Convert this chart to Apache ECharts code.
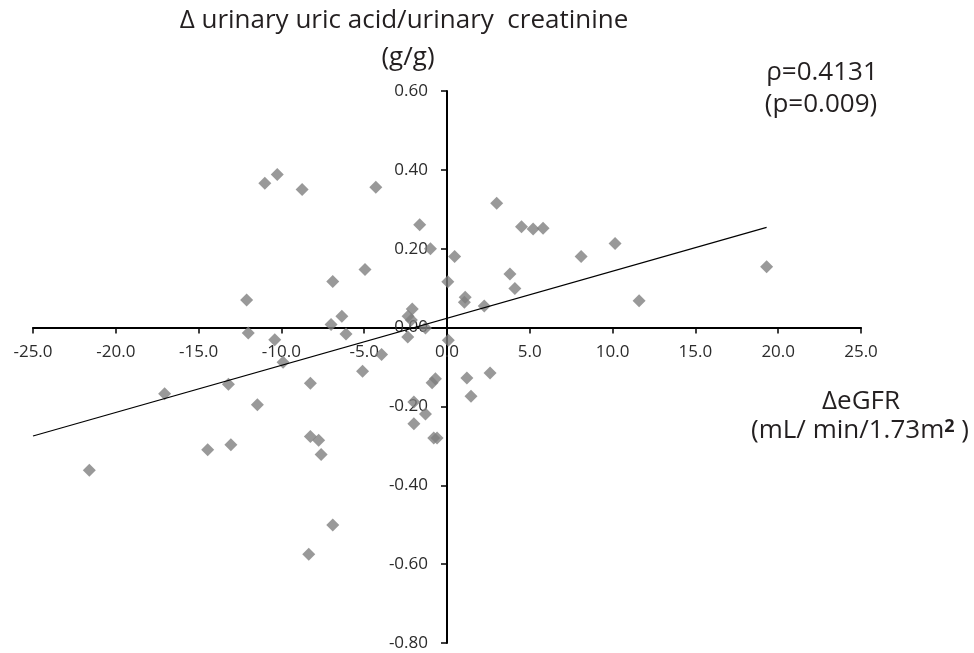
<!DOCTYPE html>
<html>
<head>
<meta charset="utf-8">
<script src="https://cdn.jsdelivr.net/npm/echarts@6/dist/echarts.min.js"></script>
<style>
  html, body { margin: 0; padding: 0; background: #fff; }
  #chart { width: 974px; height: 653px; }
</style>
</head>
<body>
<div id="chart"></div>
<script>
// ΔeGFR vs Δ urinary uric acid/creatinine
const deltaEGFR = [
  -11.0, -10.25, -8.75, -4.3, -1.65, -1.0, 0.46, -6.9, -4.95, 0.05,
  -12.1, -6.35, -7.0, -2.1, -2.35, -2.15, -1.3, -12.0, -6.1, -10.4,
  -2.37, 0.08, 1.05, 1.1, 3.0, 4.5, 5.2, 5.8, 10.15, 8.1,
  3.8, 4.1, 2.25, 11.6, 19.3, -3.95, -9.9, -5.1, -8.25, -13.2,
  -17.05, -11.45, -0.9, -0.7, -2.0, -1.3, -2.0, -0.8, -0.6, -8.25,
  -7.75, -7.6, -14.45, -13.05, -21.6, 1.2, 2.6, 1.45, -6.9, -8.35
]
const deltaUA = [
  0.366, 0.388, 0.350, 0.356, 0.261, 0.200, 0.180, 0.117, 0.147, 0.116,
  0.070, 0.029, 0.008, 0.047, 0.029, 0.019, -0.001, -0.014, -0.016, -0.031,
  -0.024, -0.032, 0.064, 0.077, 0.315, 0.256, 0.250, 0.252, 0.213, 0.180,
  0.136, 0.099, 0.055, 0.068, 0.154, -0.068, -0.088, -0.111, -0.141, -0.144,
  -0.168, -0.196, -0.140, -0.130, -0.189, -0.219, -0.244, -0.280, -0.280, -0.276,
  -0.286, -0.322, -0.310, -0.297, -0.362, -0.128, -0.115, -0.174, -0.501, -0.575
]
// regression line end points
const trendX = [-25, 19.3]
const trendY = [-0.275, 0.254]

const textColor = '#231f20'
const fontName = '"Open Sans", sans-serif'

const chart = echarts.init(document.getElementById('chart'), null, { renderer: 'canvas' })

function label(text, x, y, size, rich) {
  return {
    type: 'text',
    style: {
      text: text, x: x, y: y, align: 'center', verticalAlign: 'middle',
      fill: textColor, font: size + 'px ' + fontName, rich: rich
    }
  }
}

const grid = { left: 33, right: 113, top: 91, bottom: 10, outerBoundsMode: 'none', containLabel: false }

const option = {
  animation: false,
  grid: grid,
  xAxis: {
    type: 'value',
    position: 'bottom',
    min: -25, max: 25, interval: 5,
    splitLine: { show: false },
    axisLine: { onZero: false, lineStyle: { color: '#000', width: 2 } },
    axisTick: { show: true, length: 6, lineStyle: { color: '#000', width: 1.5 } },
    axisLabel: {
      margin: 16, color: '#2b2b2b', fontSize: 17, fontFamily: fontName,
      showMinLabel: true, showMaxLabel: true,
      formatter: v => v.toFixed(1)
    }
  },
  yAxis: {
    type: 'value',
    position: 'left',
    min: -0.8, max: 0.6, interval: 0.2,
    splitLine: { show: false },
    axisLine: { onZero: false, lineStyle: { color: '#000', width: 2 } },
    axisTick: { show: true, length: 6, lineStyle: { color: '#000', width: 1.5 } },
    axisLabel: {
      margin: 19, color: '#2b2b2b', fontSize: 17, fontFamily: fontName,
      showMinLabel: true, showMaxLabel: true,
      formatter: v => v.toFixed(2)
    }
  },
  series: [
    {
      type: 'scatter',
      symbol: 'diamond',
      symbolSize: 13,
      itemStyle: { color: '#7f7f7f' },
      data: deltaEGFR.map((x, i) => [x, deltaUA[i]])
    },
    {
      type: 'line',
      symbol: 'none',
      lineStyle: { color: '#000', width: 1.2 },
      z: 3,
      data: trendX.map((x, i) => [x, trendY[i]])
    }
  ],
  graphic: [
    label('Δ urinary uric acid/urinary  creatinine', 404, 21, 26),
    label('(g/g)', 408, 58, 26),
    label('ρ=0.4131', 822, 73, 26),
    label('(p=0.009)', 821, 105, 26),
    label('ΔeGFR', 861, 402, 26),
    label('(mL/ min/1.73m{sup|2} )', 860, 431, 26, {
      sup: { fontSize: 18, fontWeight: 'bold', fontFamily: fontName, fill: textColor, verticalAlign: 'bottom', padding: [0, 0, 9, 0] }
    })
  ]
}

chart.setOption(option)

// move both axes so they cross at the origin (labels included)
const origin = chart.convertToPixel({ gridIndex: 0 }, [0, 0])
const h = chart.getHeight()
chart.setOption({
  xAxis: { offset: origin[1] - (h - grid.bottom) },
  yAxis: { offset: grid.left - origin[0] }
})
</script>
</body>
</html>
